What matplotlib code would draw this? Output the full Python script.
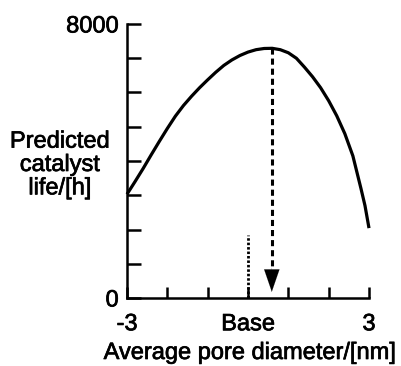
import matplotlib
matplotlib.use("Agg")
import matplotlib.pyplot as plt
import matplotlib.patheffects as pe

plt.rcParams['font.family'] = ['Liberation Sans', 'DejaVu Sans']

# Curve
pore_x = [-3.0, -2.8, -2.6, -2.4, -2.2, -2.0, -1.8, -1.6, -1.4, -1.2, -1.0, -0.8, -0.6, -0.4,
          -0.2, 0.0, 0.2, 0.4, 0.6, 0.8, 1.0, 1.2, 1.4, 1.6, 1.8, 2.0, 2.2, 2.4, 2.6, 2.8, 2.9, 3.0]
life_h = [3030, 3400, 3780, 4180, 4570, 4950, 5310, 5620, 5890, 6140, 6370, 6590, 6790, 6950,
          7080, 7180, 7250, 7285, 7290, 7250, 7160, 7000, 6740, 6460, 6140, 5760, 5320, 4800,
          4150, 3200, 2700, 2040]

optimum_x = 0.59
optimum_y = 7290
arrow_end_y = 180
base_x = 0.0
base_marker_top = 1840

xtick_pos = [-3, -2, -1, 0, 1, 2, 3]
xtick_labels = ['-3', '', '', 'Base', '', '', '3']
ytick_pos = [0, 1000, 2000, 3000, 4000, 5000, 6000, 7000, 8000]
ytick_labels = ['0', '', '', '', '', '', '', '', '8000']

FS = 17
heavy = [pe.withStroke(linewidth=0.5, foreground='black')]

fig = plt.figure(figsize=(4.02, 3.66), dpi=100)
ax = fig.add_axes([127/402, 1 - 298/366, (369 - 127)/402, (298 - 24)/366])

ax.plot(pore_x, life_h, color='black', lw=2.3, clip_on=False,
        solid_capstyle='butt', solid_joinstyle='round')

# dashed arrow from optimum down
ax.plot([optimum_x, optimum_x], [optimum_y, arrow_end_y + 600], color='black', lw=2.2,
        dashes=(2.0, 1.3), clip_on=False)
ax.annotate('', xy=(optimum_x, arrow_end_y), xytext=(optimum_x, arrow_end_y + 700),
            arrowprops=dict(arrowstyle='-|>,head_length=1.6,head_width=0.55',
                            color='black', lw=0.1, shrinkA=0, shrinkB=0))

# dotted base marker
ax.plot([base_x, base_x], [0, base_marker_top], color='black', lw=2.0,
        linestyle=(0, (0.9, 0.7)), clip_on=False)

ax.set_xlim(-3, 3)
ax.set_ylim(0, 8000)
for s in ['top', 'right']:
    ax.spines[s].set_visible(False)
for s in ['left', 'bottom']:
    ax.spines[s].set_linewidth(1.8)

ax.set_xticks(xtick_pos)
ax.set_xticklabels(xtick_labels, fontsize=FS)
ax.set_yticks(ytick_pos)
ax.set_yticklabels(ytick_labels, fontsize=FS)
ax.tick_params(axis='y', direction='in', length=10, width=1.8, pad=6)
ax.tick_params(axis='x', direction='in', length=8, width=1.8, pad=11)
for lab in ax.get_xticklabels() + ax.get_yticklabels():
    lab.set_path_effects(heavy)

fig.text(60/402, 1 - 165/366, 'Predicted\ncatalyst\nlife/[h]', ha='center', va='center',
         fontsize=FS, linespacing=1.08, path_effects=heavy)
fig.text(250/402, 1 - 353/366, 'Average pore diameter/[nm]', ha='center', va='center',
         fontsize=FS, path_effects=heavy)

fig.savefig('out.png', dpi=100)
